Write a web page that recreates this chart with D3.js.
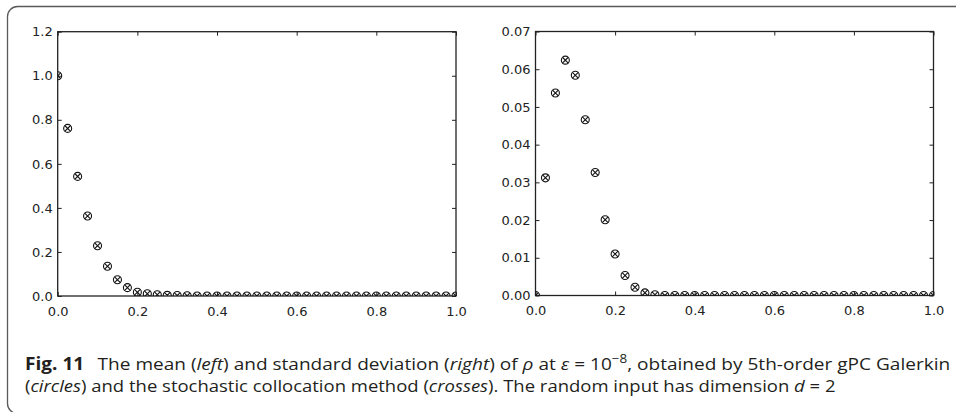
<!DOCTYPE html>
<html>
<head>
<meta charset="utf-8">
<script src="https://cdn.jsdelivr.net/npm/d3@7"></script>
<style>
  html, body { margin: 0; padding: 0; background: #fff; }
  svg { display: block; }
</style>
</head>
<body>
<svg id="chart" width="956" height="412"></svg>
<script>
// ---------------- data ----------------
const xValues = [0.000, 0.025, 0.050, 0.075, 0.100, 0.125, 0.150, 0.175, 0.200, 0.225,
                 0.250, 0.275, 0.300, 0.325, 0.350, 0.375, 0.400, 0.425, 0.450, 0.475,
                 0.500, 0.525, 0.550, 0.575, 0.600, 0.625, 0.650, 0.675, 0.700, 0.725,
                 0.750, 0.775, 0.800, 0.825, 0.850, 0.875, 0.900, 0.925, 0.950, 0.975, 1.000];
const meanValues = [1.000, 0.761, 0.543, 0.363, 0.228, 0.135, 0.074, 0.038, 0.017, 0.010,
                    0.006, 0.003, 0.002, 0.001, 0, 0, 0, 0, 0, 0,
                    0, 0, 0, 0, 0, 0, 0, 0, 0, 0,
                    0, 0, 0, 0, 0, 0, 0, 0, 0, 0, 0];
const stdValues = [0.0000, 0.0312, 0.0537, 0.0624, 0.0584, 0.0466, 0.0326, 0.0201, 0.0110, 0.0053,
                   0.0022, 0.0007, 0.0002, 0, 0, 0, 0, 0, 0, 0,
                   0, 0, 0, 0, 0, 0, 0, 0, 0, 0,
                   0, 0, 0, 0, 0, 0, 0, 0, 0, 0, 0];
const xTicks = [0.0, 0.2, 0.4, 0.6, 0.8, 1.0];
const meanTicks = [0.0, 0.2, 0.4, 0.6, 0.8, 1.0, 1.2];
const stdTicks = [0.00, 0.01, 0.02, 0.03, 0.04, 0.05, 0.06, 0.07];

// ---------------- drawing ----------------
const svg = d3.select("#chart");
const ink = "#222";

// outer rounded box (open to the right)
svg.append("rect")
  .attr("x", 7.5).attr("y", 6.5)
  .attr("width", 1100).attr("height", 407)
  .attr("rx", 10).attr("ry", 10)
  .attr("fill", "none").attr("stroke", "#5a5a5a").attr("stroke-width", 1.3);

function panel(id, left, right, top, bottom, yMax, yTicks, yFmt, values) {
  const x = d3.scaleLinear().domain([0, 1]).range([left, right]);
  const y = d3.scaleLinear().domain([0, yMax]).range([bottom, top]);
  const g = svg.append("g");

  g.append("clipPath").attr("id", id)
    .append("rect").attr("x", left).attr("y", top)
    .attr("width", right - left).attr("height", bottom - top);

  const style = sel => {
    sel.select(".domain").remove();
    sel.selectAll(".tick line").attr("stroke", ink).attr("stroke-width", 1);
    sel.selectAll(".tick text").attr("fill", ink)
      .style("font-family", "'DejaVu Sans', sans-serif").style("font-size", "13px");
  };

  g.append("g").attr("transform", `translate(0,${bottom})`)
    .call(d3.axisBottom(x).tickValues(xTicks).tickFormat(d3.format(".1f")).tickSizeInner(-4).tickSizeOuter(0).tickPadding(10.5))
    .call(style);
  g.append("g").attr("transform", `translate(0,${top})`)
    .call(d3.axisTop(x).tickValues(xTicks).tickFormat("").tickSizeInner(-4).tickSizeOuter(0))
    .call(style);
  g.append("g").attr("transform", `translate(${left},0)`)
    .call(d3.axisLeft(y).tickValues(yTicks).tickFormat(d3.format(yFmt)).tickSizeInner(-4).tickSizeOuter(0).tickPadding(5))
    .call(style);
  g.append("g").attr("transform", `translate(${right},0)`)
    .call(d3.axisRight(y).tickValues(yTicks).tickFormat("").tickSizeInner(-4).tickSizeOuter(0))
    .call(style);

  g.append("rect")
    .attr("x", left).attr("y", top)
    .attr("width", right - left).attr("height", bottom - top)
    .attr("fill", "none").attr("stroke", ink).attr("stroke-width", 1.3);

  const pts = g.append("g").attr("clip-path", `url(#${id})`)
    .selectAll("g").data(xValues.map((xv, i) => [xv, values[i]]))
    .join("g")
    .attr("transform", d => `translate(${x(d[0])},${y(d[1])})`);
  pts.append("circle").attr("r", 4).attr("fill", "none").attr("stroke", "#111").attr("stroke-width", 1.1);
  pts.append("path").attr("d", "M-2.9,-2.9L2.9,2.9M-2.9,2.9L2.9,-2.9")
    .attr("fill", "none").attr("stroke", "#111").attr("stroke-width", 1.1);
}

panel("clipL", 57.7, 456, 31.7, 296, 1.2, meanTicks, ".1f", meanValues);
panel("clipR", 535.5, 933.5, 31.5, 295.5, 0.07, stdTicks, ".2f", stdValues);

// ---------------- caption ----------------
const capFont = "'Liberation Sans Narrow', 'Open Sans', 'Noto Sans', sans-serif";
function captionLine(yBase, parts) {
  const g = svg.append("g").attr("transform", `translate(25,${yBase})`);
  const t = g.append("text").attr("x", 0).attr("y", 0)
    .style("font-family", capFont).style("font-size", "17px").attr("fill", "#231f20");
  parts.forEach(p => {
    const s = t.append("tspan").text(p.t);
    if (p.b) s.style("font-weight", "bold");
    if (p.i) s.style("font-style", "italic");
    if (p.dx) s.attr("dx", p.dx);
    if (p.dy) s.attr("dy", p.dy);
    if (p.fs) s.style("font-size", p.fs);
  });
  return { g, t };
}
const line1 = captionLine(370, [
  { t: "Fig. 11", b: true },
  { t: "The mean (", dx: 12 },
  { t: "left", i: true },
  { t: ") and standard deviation (" },
  { t: "right", i: true },
  { t: ") of " },
  { t: "ρ", i: true },
  { t: " at " },
  { t: "ε", i: true },
  { t: " = 10" },
  { t: "−8", dy: -7, fs: "12px" },
  { t: ", obtained by 5th-order gPC Galerkin", dy: 7 }
]);
const line2 = captionLine(392, [
  { t: "(" },
  { t: "circles", i: true },
  { t: ") and the stochastic collocation method (" },
  { t: "crosses", i: true },
  { t: "). The random input has dimension " },
  { t: "d", i: true },
  { t: " = 2" }
]);
const sx1 = 912 / line1.t.node().getComputedTextLength();
const sx2 = 811 / line2.t.node().getComputedTextLength();
line1.g.attr("transform", `translate(25,370) scale(${sx1},1)`);
line2.g.attr("transform", `translate(25,392) scale(${sx2},1)`);
</script>
</body>
</html>
